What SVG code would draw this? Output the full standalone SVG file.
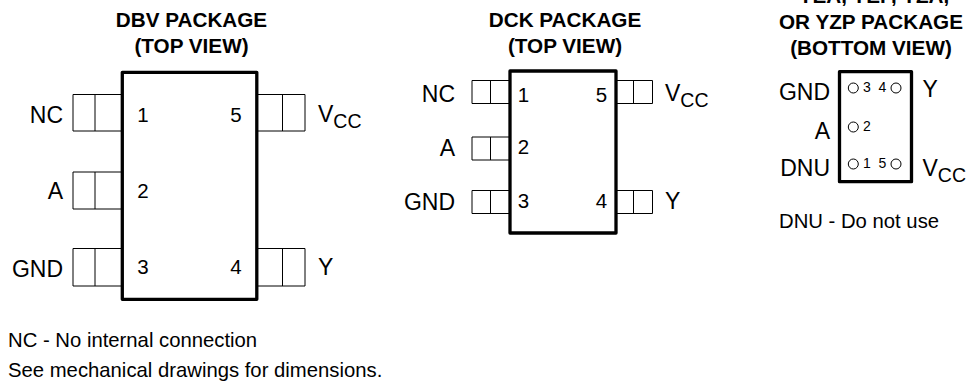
<svg xmlns="http://www.w3.org/2000/svg" width="967" height="381" viewBox="0 0 967 381">
<style>
text{font-family:"Liberation Sans",Arial,sans-serif;fill:#000}
.t{font-size:20.700px;font-weight:bold;text-anchor:middle}
.l{font-size:23px}
.e{text-anchor:end}
.n{font-size:20.500px;text-anchor:middle}
.s{font-size:14px;text-anchor:middle}
.f{font-size:20.300px}
.pin{fill:none;stroke:#000;stroke-width:1}
.body{fill:#fff;stroke:#000;stroke-width:3.300;stroke-linejoin:round}
.ball{fill:none;stroke:#000;stroke-width:1}
.sub{font-size:19.500px}
</style>
<rect width="967" height="381" fill="#fff"/>
<g id="connectors">
<path class="pin" d="M121 94.500H73V131H121M95 94.500V131"/>
<path class="pin" d="M121 172H73V209H121M95 172V209"/>
<path class="pin" d="M121 248.500H73V286H121M95 248.500V286"/>
<path class="pin" d="M257 94.500H305V131H257M282.500 94.500V131"/>
<path class="pin" d="M257 248.500H305V286H257M282.500 248.500V286"/>
<path class="pin" d="M509 80.500H472V103.500H509M490.500 80.500V103.500"/>
<path class="pin" d="M509 137H472V160H509M490.500 137V160"/>
<path class="pin" d="M509 190.500H472V213.500H509M490.500 190.500V213.500"/>
<path class="pin" d="M617 80.500H652.500V103.500H617M633.500 80.500V103.500"/>
<path class="pin" d="M617 190.500H652.500V213.500H617M633.500 190.500V213.500"/>
</g>
<g id="dbv">
<text class="t" x="191.500" y="26.500">DBV PACKAGE</text>
<text class="t" x="191.500" y="53">(TOP VIEW)</text>
<rect class="body" x="122.300" y="72.300" width="134.500" height="227"/>
<text class="l e" x="63" y="122.500">NC</text>
<text class="l e" x="63" y="198.500">A</text>
<text class="l e" x="63" y="276.500">GND</text>
<text class="n" x="143" y="122">1</text>
<text class="n" x="143" y="198">2</text>
<text class="n" x="143" y="274">3</text>
<text class="n" x="236" y="274">4</text>
<text class="n" x="236" y="122">5</text>
<text class="l" x="318" y="122">V<tspan class="sub" dy="6">CC</tspan></text>
<text class="l" x="318" y="274.500">Y</text>
</g>
<g id="dck">
<text class="t" x="565" y="26.500">DCK PACKAGE</text>
<text class="t" x="565" y="53">(TOP VIEW)</text>
<rect class="body" x="510" y="71" width="106" height="162"/>
<text class="l e" x="455" y="101.500">NC</text>
<text class="l e" x="455" y="155.500">A</text>
<text class="l e" x="455" y="210">GND</text>
<text class="n" x="523.500" y="101.500">1</text>
<text class="n" x="523.500" y="153.500">2</text>
<text class="n" x="523.500" y="208">3</text>
<text class="n" x="601.500" y="208">4</text>
<text class="n" x="601.500" y="101.500">5</text>
<text class="l" x="665" y="101">V<tspan class="sub" dy="6">CC</tspan></text>
<text class="l" x="665" y="209">Y</text>
</g>
<g id="yza">
<text class="t" x="874" y="3">YEA, YEP, YZA,</text>
<text class="t" x="871" y="29">OR YZP PACKAGE</text>
<text class="t" x="871" y="55">(BOTTOM VIEW)</text>
<rect class="body" x="839.500" y="71.700" width="72" height="110"/>
<circle class="ball" cx="853.300" cy="88" r="5"/>
<circle class="ball" cx="896" cy="88" r="5"/>
<circle class="ball" cx="853.300" cy="127" r="5"/>
<circle class="ball" cx="853.300" cy="164" r="5"/>
<circle class="ball" cx="896" cy="164" r="5"/>
<text class="s" x="867" y="92">3</text>
<text class="s" x="882.500" y="92">4</text>
<text class="s" x="867" y="131">2</text>
<text class="s" x="867" y="168">1</text>
<text class="s" x="882.500" y="168">5</text>
<text class="l e" x="830" y="99.500">GND</text>
<text class="l e" x="830" y="139">A</text>
<text class="l e" x="830" y="175.500">DNU</text>
<text class="l" x="922.500" y="97">Y</text>
<text class="l" x="922.500" y="175.500">V<tspan class="sub" dy="6">CC</tspan></text>
<text class="f" x="779" y="228">DNU - Do not use</text>
</g>
<g id="notes">
<text class="f" x="8" y="346.500">NC - No internal connection</text>
<text class="f" x="8" y="376.500">See mechanical drawings for dimensions.</text>
</g>
</svg>
